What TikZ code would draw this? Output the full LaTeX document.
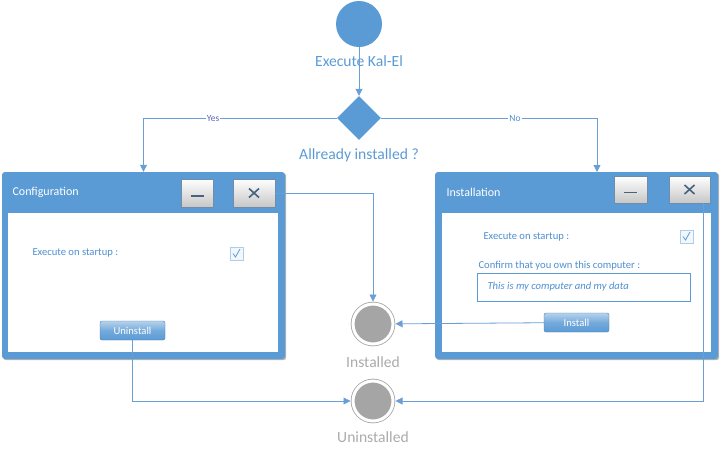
\documentclass[tikz,border=0pt]{standalone}
\usepackage{fontspec}
\setmainfont{Carlito}
\usepackage{tikz}
\usetikzlibrary{positioning}
\usetikzlibrary{calc}
\usetikzlibrary{shapes.geometric}
\usetikzlibrary{shadows}
\usetikzlibrary{arrows.meta}
\definecolor{flowblue}{HTML}{5B9BD5}
\definecolor{linkblue}{HTML}{6A9FD6}
\definecolor{endgray}{HTML}{A5A5A5}
\definecolor{labgray}{HTML}{ABABAB}
\definecolor{txtblue}{HTML}{4F8FD0}
\definecolor{btnedge}{HTML}{6F8CA8}
\definecolor{glyphblue}{HTML}{46627F}
\tikzset{>=Triangle}
\tikzstyle{line} = [draw=linkblue, thick, -{Triangle[width=7pt,length=7pt]}]

\begin{document}
\begin{tikzpicture}[x=1pt,y=-1pt,
      auto,
      startnode/.style={circle, fill=flowblue, minimum size=46pt, inner sep=0pt},
      choice/.style={diamond, fill=flowblue, minimum width=44pt, minimum height=44pt, inner sep=0pt},
      flowtext/.style={text=flowblue, font=\fontsize{15.6}{17}\selectfont},
      endtext/.style={text=labgray, font=\fontsize{15.6}{17}\selectfont},
      endnode/.style={circle, fill=endgray, draw=endgray, double=white,
        double distance=3pt, line width=0.8pt, minimum size=40pt, inner sep=0pt, outer sep=2.5pt},
      answer/.style={auto=false, fill=white, inner sep=1pt, font=\fontsize{9.5}{10}\selectfont},
      window/.style={rectangle, fill=flowblue, rounded corners=3pt, minimum width=283pt,
        minimum height=187pt, inner sep=0pt,
        drop shadow={shadow xshift=1.2pt, shadow yshift=-1.2pt, opacity=0.6}},
      winbody/.style={rectangle, fill=white, minimum height=139pt, inner sep=0pt},
      wintitle/.style={anchor=west, text=white, font=\fontsize{12}{13}\selectfont},
      wintext/.style={anchor=west, text=txtblue, font=\fontsize{10.6}{12}\selectfont},
      winbutton/.style={rectangle, draw=btnedge, top color=white, bottom color=black!22,
        minimum height=28pt, inner sep=0pt},
      glyph/.style={draw=glyphblue, line width=1.6pt},
      checkbox/.style={rectangle, draw=flowblue!50, fill=flowblue!8, minimum size=13pt, inner sep=0pt},
      field/.style={rectangle, draw=flowblue, fill=white, minimum width=213pt, minimum height=28pt},
      action/.style={rectangle, rounded corners=2pt, draw=flowblue!80!black, top color=flowblue!45,
        bottom color=flowblue, middle color=flowblue!85, minimum width=65pt, minimum height=19pt,
        inner sep=0pt, text=white, font=\fontsize{10.6}{12}\selectfont}]
    \useasboundingbox (0,0) rectangle (722,456);
    %% Start and choice
    \node [startnode] (start) at (359,24) {};
    \node [flowtext] (startlbl) at (359,61) {Execute Kal-El};
    \node [choice] (choice) at (359,118) {};
    \node [flowtext] (choicelbl) at (359,155) {Allready installed ?};
    %% Configuration window
    \node [window] (conf) at (143.5,265.5) {};
    \node [winbody, minimum width=270pt] (confbody) at (143,282.5) {};
    \node [wintitle] (conftitle) at (9,192) {Configuration};
    \node [winbutton, minimum width=32pt] (confmin) at (197,193) {};
    \node [winbutton, minimum width=42pt] (confclose) at (254,193) {};
    \draw [glyph] ($(confmin.center)+(-6.5,3)$) -- ++(13,0);
    \draw [glyph] ($(confclose.center)+(-5,-4.5)$) -- ++(10,9);
    \draw [glyph] ($(confclose.center)+(5,-4.5)$) -- ++(-10,9);
    \node [wintext] (confstart) at (29,253) {Execute on startup :};
    \node [checkbox] (confcheck) at (236.5,253.5) {};
    \draw [flowblue, thick] ($(confcheck.center)+(-3.5,0)$) -- ++(2.5,3.5) -- ++(4.5,-8);
    \node [action] (uninst) at (132.5,330.5) {Uninstall};
    %% Installation window
    \node [window] (inst) at (576.5,265.5) {};
    \node [winbody, minimum width=269pt] (instbody) at (576.5,282.5) {};
    \node [wintitle] (insttitle) at (443,192) {Installation};
    \node [winbutton, minimum width=33pt, minimum height=27pt] (instmin) at (630.5,189.5) {};
    \node [winbutton, minimum width=41pt, minimum height=27pt] (instclose) at (689.5,189.5) {};
    \draw [glyph] ($(instmin.center)+(-6.5,3)$) -- ++(13,0);
    \draw [glyph] ($(instclose.center)+(-5,-4.5)$) -- ++(10,9);
    \draw [glyph] ($(instclose.center)+(5,-4.5)$) -- ++(-10,9);
    \node [wintext] (inststart) at (480,237) {Execute on startup :};
    \node [checkbox] (instcheck) at (686.5,236.5) {};
    \draw [flowblue, thick] ($(instcheck.center)+(-3.5,0)$) -- ++(2.5,3.5) -- ++(4.5,-8);
    \node [wintext] (instask) at (475,266) {Confirm that you own this computer :};
    \node [field] (instfield) at (583.5,287) {};
    \node [wintext, font=\fontsize{10.6}{12}\selectfont\itshape] (instreply) at (484,287) {This is my computer and my data};
    \node [action] (install) at (576.5,322.5) {Install};
    %% End states
    \node [endnode] (installed) at (373,324) {};
    \node [endtext] (installedlbl) at (373,362) {Installed};
    \node [endnode] (uninstalled) at (373,401) {};
    \node [endtext] (uninstlbl) at (373,437) {Uninstalled};
    \coordinate (instin) at (597,172);
    %% Transitions
    \path [line] (start) -- (choice);
    \path [line] (choice.west) -| node [answer, pos=0.32, text=txtblue!70!violet] {Yes} (conf.north);
    \path [line] (choice.east) -| node [answer, pos=0.31, text=txtblue] {No} (instin);
    \path [line] (confclose.east) -| (installed.north);
    \path [line] (install) -- (installed);
    \path [line] (uninst.south) |- (uninstalled.west);
    \path [line] ([xshift=13.5pt]instclose.south) |- (uninstalled.east);
  \end{tikzpicture}
\end{document}
